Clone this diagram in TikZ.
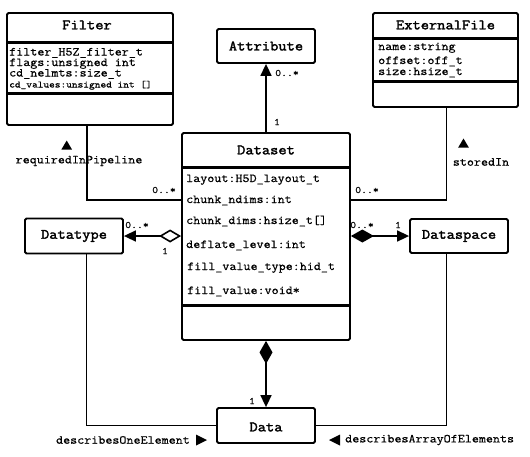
\documentclass[tikz,border=0pt]{standalone}
\usepackage{fontspec}
\setmainfont{Latin Modern Mono}[FakeStretch=1.12,FakeBold=0.5,BoldFont=Latin Modern Mono,BoldFeatures={FakeBold=2.2}]
\usetikzlibrary{arrows.meta,calc}
\begin{document}
\begin{tikzpicture}[x=1pt,y=-1pt,
 box/.style={draw,line width=1.8pt,rounded corners=1.5pt,inner sep=0pt},
 sepline/.style={line width=3pt},
 ttl/.style={font=\fontsize{14.3}{14.3}\selectfont\bfseries,inner sep=0pt},
 attr/.style={font=\fontsize{12.2}{12.2}\selectfont,anchor=base west,inner sep=0pt},
 smallattr/.style={font=\fontsize{9.7}{9.7}\selectfont,anchor=base west,inner sep=0pt},
 mult/.style={font=\fontsize{10}{10}\selectfont,inner sep=0pt},
 role/.style={font=\fontsize{12.2}{12.2}\selectfont,inner sep=0pt},
 conn/.style={line width=1.6pt},
 tri/.style={-{Triangle[length=12pt,width=11pt]}},
]
\useasboundingbox (0,0) rectangle (530,456);

% ---------- Filter ----------
\node[box,minimum width=166pt,minimum height=112pt] (filter) at (90,69) {};
\node[ttl] (filterT) at (87,25) {Filter};
\draw[sepline] (filter.west |- 0,42.5) -- (filter.east |- 0,42.5);
\draw[sepline] (filter.west |- 0,93) -- (filter.east |- 0,93);
\node[attr] (f1) at (9,55.5) {filter\_H5Z\_filter\_t};
\node[attr] (f2) at (9,66) {flags:unsigned int};
\node[attr] (f3) at (9,76.5) {cd\_nelmts:size\_t};
\node[smallattr] (f4) at (9,87.5) {cd\_values:unsigned int []};

% ---------- ExternalFile ----------
\node[box,minimum width=145pt,minimum height=94pt] (ext) at (445.5,60) {};
\node[ttl] (extT) at (445.5,25) {ExternalFile};
\draw[sepline] (ext.west |- 0,38) -- (ext.east |- 0,38);
\draw[sepline] (ext.west |- 0,81) -- (ext.east |- 0,81);
\node[attr] (e1) at (378,50) {name:string};
\node[attr] (e2) at (378,64) {offset:off\_t};
\node[attr] (e3) at (378,75) {size:hsize\_t};

% ---------- Attribute ----------
\node[box,minimum width=98pt,minimum height=34pt] (attrib) at (266,46) {};
\node[ttl] (attribT) at (266,46) {Attribute};

% ---------- Dataset ----------
\node[box,minimum width=168pt,minimum height=207pt] (dataset) at (266,236.5) {};
\node[ttl] (datasetT) at (266,150) {Dataset};
\draw[sepline] (dataset.west |- 0,167.5) -- (dataset.east |- 0,167.5);
\draw[sepline] (dataset.west |- 0,305) -- (dataset.east |- 0,305);
\node[attr] (d1) at (186,182) {layout:H5D\_layout\_t};
\node[attr] (d2) at (186,203) {chunk\_ndims:int};
\node[attr] (d3) at (186,224) {chunk\_dims:hsize\_t[]};
\node[attr] (d4) at (186,248) {deflate\_level:int};
\node[attr] (d5) at (187,270) {fill\_value\_type:hid\_t};
\node[attr] (d6) at (187,294) {fill\_value:void*};

% ---------- Datatype ----------
\node[box,minimum width=98pt,minimum height=35pt] (datatype) at (74,236) {};
\node[ttl] (datatypeT) at (74,236) {Datatype};

% ---------- Dataspace ----------
\node[box,minimum width=98pt,minimum height=34pt] (dataspace) at (459,236) {};
\node[ttl] (dataspaceT) at (459,236) {Dataspace};

% ---------- Data ----------
\node[box,minimum width=98pt,minimum height=35pt] (data) at (266,425.5) {};
\node[ttl] (dataT) at (266,427) {Data};

% ---------- connectors ----------
\draw[conn,tri] (dataset.north) -- (attrib.south);
\node[mult] (m1) at (287,73) {0..*};
\node[mult] (m2) at (277,122) {1};

\coordinate (fc) at (87,200);
\draw[conn] (filter.south -| fc) |- (dataset.west |- fc);
\node[mult] (m3) at (164,190) {0..*};

\coordinate (ec) at (446.5,200);
\draw[conn] (ext.south -| ec) |- (dataset.east |- ec);
\node[mult] (m4) at (367,190) {0..*};

\draw[conn,{Diamond[open,length=22pt,width=13pt]}-{Triangle[length=12pt,width=11pt]}]
  (dataset.west |- datatype) -- (datatype.east);
\node[mult] (m5) at (137,225) {0..*};
\node[mult] (m6) at (165,251) {1};

\draw[conn,{Diamond[length=23pt,width=13pt]}-{Triangle[length=12pt,width=11pt]}]
  (dataset.east |- dataspace) -- (dataspace.west);
\node[mult] (m7) at (362,225) {0..*};
\node[mult] (m8) at (398,225) {1};

\draw[conn,{Diamond[length=23pt,width=13pt]}-{Triangle[length=12pt,width=11pt]}]
  (dataset.south) -- (data.north);
\node[mult] (m9) at (252,401) {1};

\coordinate (lc) at (86.5,426);
\draw[conn] (datatype.south -| lc) |- (data.west);
\coordinate (rc) at (446.5,426);
\draw[conn] (dataspace.south -| rc) |- (data.east);

% ---------- role labels ----------
\node[role] (r1) at (79,161) {requiredInPipeline};
\fill (66.7,140.5) -- (72,149.5) -- (61.4,149.5) -- cycle;
\node[role] (r2) at (481,162) {storedIn};
\fill (463.5,138.5) -- (468.8,147.5) -- (458.2,147.5) -- cycle;
\node[role,anchor=east] (r3) at (190,440) {describesOneElement};
\fill (207,440) -- (196,434.5) -- (196,445.5) -- cycle;
\node[role,anchor=west] (r4) at (345,440) {describesArrayOfElements};
\fill (329,440) -- (340,434.5) -- (340,445.5) -- cycle;
\end{tikzpicture}
\end{document}
